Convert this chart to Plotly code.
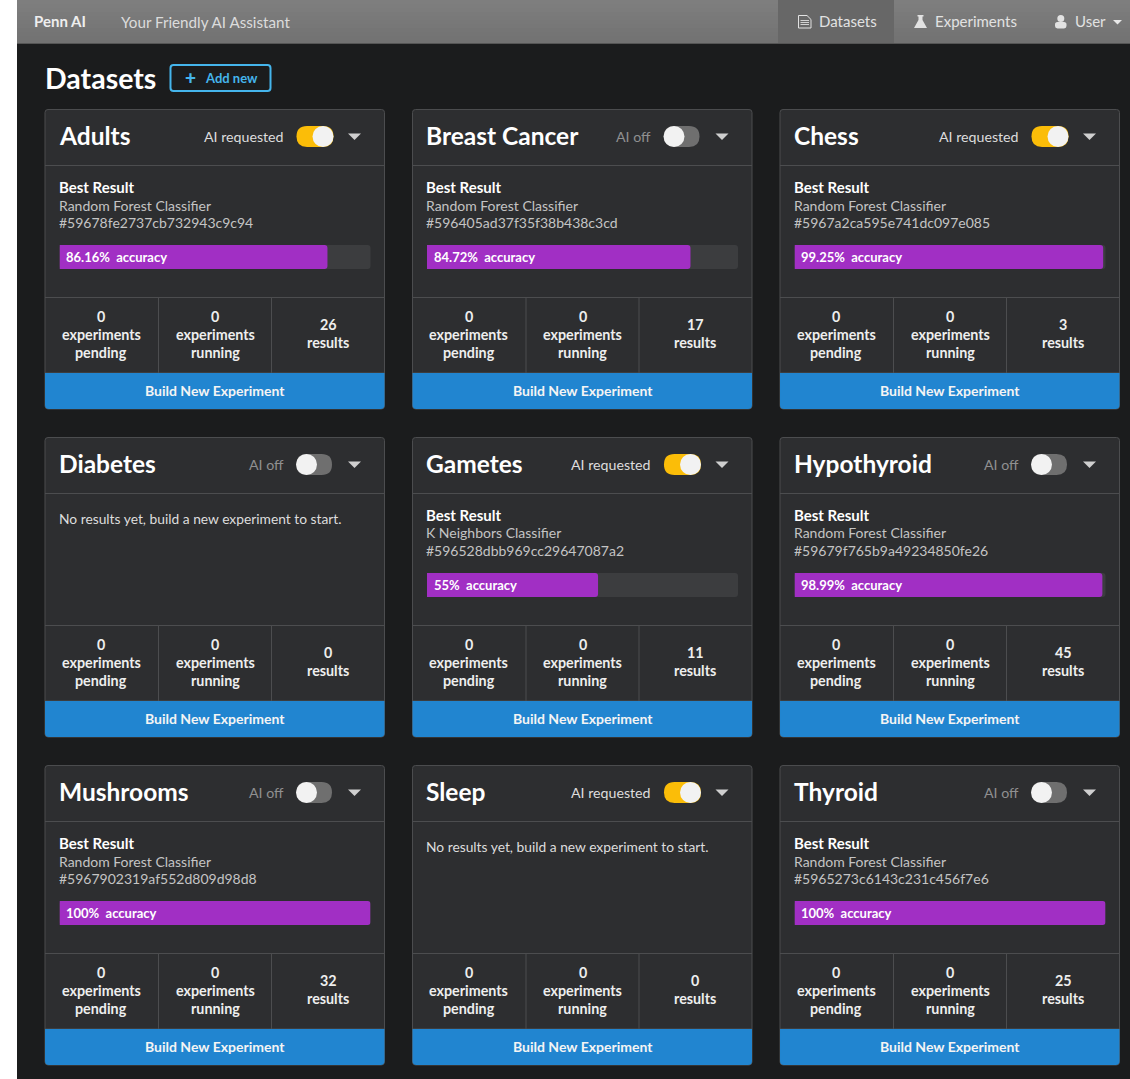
import plotly.graph_objects as go

W = 1130
H = 1079

DATASETS = ['Adults', 'Breast Cancer', 'Chess', 'Diabetes', 'Gametes', 'Hypothyroid', 'Mushrooms', 'Sleep', 'Thyroid']
AI_REQUESTED = [True, False, True, False, True, False, False, True, False]
ALGORITHMS = ['Random Forest Classifier', 'Random Forest Classifier', 'Random Forest Classifier', None,
              'K Neighbors Classifier', 'Random Forest Classifier', 'Random Forest Classifier', None,
              'Random Forest Classifier']
RESULT_IDS = ['#59678fe2737cb732943c9c94', '#596405ad37f35f38b438c3cd', '#5967a2ca595e741dc097e085', None,
              '#596528dbb969cc29647087a2', '#59679f765b9a49234850fe26', '#5967902319af552d809d98d8', None,
              '#5965273c6143c231c456f7e6']
ACCURACY = [86.16, 84.72, 99.25, None, 55, 98.99, 100, None, 100]
PENDING = [0, 0, 0, 0, 0, 0, 0, 0, 0]
RUNNING = [0, 0, 0, 0, 0, 0, 0, 0, 0]
RESULTS = [26, 17, 3, 0, 11, 45, 32, 0, 25]

CARD_X = [45, 412.5, 780]
CARD_Y = [110, 438, 766]
CARD_W = 339.5

FONT = 'Lato'
PAGE = '#1b1c1d'
CARD = '#2d2e30'
LINE = '#4c4d4f'
PURPLE = '#a12fc4'
BLUE = '#2185d0'
AMBER = '#fbbd08'
TRACK = '#3c3d3f'
NAV_SHADES = ['#7e7e7e', '#7d7d7d', '#7c7c7c', '#7a7a7a', '#797979', '#787878', '#777777', '#757575', '#747474', '#737373', '#727272']


def px(x):
    return x / W


def py(y):
    return 1 - y / H


shapes = []
notes = []


def rect(x0, y0, x1, y1, fill, line=None, width=1):
    shapes.append(dict(type='rect', xref='paper', yref='paper', layer='below',
                       x0=px(x0), x1=px(x1), y0=py(y0), y1=py(y1), fillcolor=fill,
                       line=dict(color=line or 'rgba(0,0,0,0)', width=width if line else 0)))


def poly(d, fill, line=None, width=1):
    out = []
    for part in d:
        if isinstance(part, str):
            out.append(part)
        else:
            out.append(f'{px(part[0]):.5f},{py(part[1]):.5f}')
    shapes.append(dict(type='path', xref='paper', yref='paper', layer='below', path=' '.join(out),
                       fillcolor=fill, line=dict(color=line or 'rgba(0,0,0,0)', width=width if line else 0)))


def rrect(x0, y0, x1, y1, r, fill, line=None, width=1, top=True, bottom=True):
    rt = r if top else 0
    rb = r if bottom else 0
    d = ['M', (x0 + rt, y0), 'L', (x1 - rt, y0), 'Q', (x1, y0), (x1, y0 + rt),
         'L', (x1, y1 - rb), 'Q', (x1, y1), (x1 - rb, y1),
         'L', (x0 + rb, y1), 'Q', (x0, y1), (x0, y1 - rb),
         'L', (x0, y0 + rt), 'Q', (x0, y0), (x0 + rt, y0), 'Z']
    poly(d, fill, line, width)


def circle(cx, cy, r, fill):
    shapes.append(dict(type='circle', xref='paper', yref='paper', layer='below',
                       x0=px(cx - r), x1=px(cx + r), y0=py(cy - r), y1=py(cy + r),
                       fillcolor=fill, line=dict(width=0)))


def hline(x0, x1, y, color=LINE):
    shapes.append(dict(type='line', xref='paper', yref='paper', layer='below',
                       x0=px(x0), x1=px(x1), y0=py(y), y1=py(y), line=dict(color=color, width=1)))


def vline(x, y0, y1, color=LINE):
    shapes.append(dict(type='line', xref='paper', yref='paper', layer='below',
                       x0=px(x), x1=px(x), y0=py(y0), y1=py(y1), line=dict(color=color, width=1)))


def label(x, y, text, size=14, color='#ffffff', weight=400, anchor='left'):
    # annotations keep a little padding round the text, take it back here
    if anchor == 'left':
        x -= 2
    elif anchor == 'right':
        x += 1.5
    notes.append(dict(xref='paper', yref='paper', x=px(x), y=py(y), text=text, showarrow=False,
                      xanchor=anchor, yanchor='middle', borderpad=0,
                      font=dict(family=FONT, size=size, color=color, weight=weight)))


# page background and nav bar, bands overlap so no seam shows between them
rect(17, 0, W, H, PAGE)
for i, shade in enumerate(NAV_SHADES):
    rect(17, i * 4, W, 44, shade)
rect(778, 0, 894, 43, '#676767')
hline(17, W, 43.5, '#555555')

label(35, 21, 'Penn AI', 15, '#eeeeee', 700)
label(122, 21.5, 'Your Friendly AI Assistant', 15.2, '#dcdcdc')
label(820, 21, 'Datasets', 15, '#e2e2e2')
label(936, 21, 'Experiments', 15, '#e2e2e2')
label(1076, 21, 'User', 15, '#e2e2e2')

# document icon
poly(['M', (798.5, 15.5), 'L', (807, 15.5), 'L', (811, 19.5), 'L', (811, 28), 'L', (798.5, 28), 'Z'], 'rgba(0,0,0,0)', '#e2e2e2', 1)
for yy in (20.5, 22.5, 24.5):
    hline(800.5, 809, yy, '#d0d0d0')
# flask icon
poly(['M', (917.5, 15), 'L', (923.5, 15), 'L', (923.5, 16.5), 'L', (922.5, 16.5), 'L', (922.5, 20), 'L', (927, 28), 'L', (914, 28),
      'L', (918.5, 20), 'L', (918.5, 16.5), 'L', (917.5, 16.5), 'Z'], '#e2e2e2')
# user icon
circle(1060.8, 18.5, 3.5, '#e2e2e2')
rrect(1055, 22, 1066.5, 28.5, 2.5, '#e2e2e2')
poly(['M', (1113, 20), 'L', (1122, 20), 'L', (1117.5, 24.5), 'Z'], '#e8e8e8')

# heading
label(46, 78, 'Datasets', 28.5, '#ffffff', 700)
rrect(170.5, 65, 270.5, 91, 3, 'rgba(0,0,0,0)', '#45b5ec', 2)
label(190, 77.5, '+', 19, '#45b5ec', 900, 'center')
label(206, 78, 'Add new', 13, '#45b5ec', 700)

fig = go.Figure()
layout_axes = {}

for i, name in enumerate(DATASETS):
    cx = CARD_X[i % 3]
    cy = CARD_Y[i // 3]
    right = cx + CARD_W
    tx0 = cx + 14.5
    tx1 = right - 14

    rrect(cx, cy - 0.5, right, cy + 299, 3, CARD, LINE, 1)
    hline(cx, right, cy + 55.5)
    hline(cx, right, cy + 187.5)
    hline(cx, right, cy + 263)
    vline(cx + 113.5, cy + 187.5, cy + 263)
    vline(cx + 226.5, cy + 187.5, cy + 263)
    rrect(cx, cy + 263, right, cy + 299, 4, BLUE, top=False)

    label(tx0, cy + 25, name, 24.5, '#ffffff', 700)
    on = AI_REQUESTED[i]
    label(cx + 238, cy + 26, 'AI requested' if on else 'AI off', 14.2, '#dddddd' if on else '#909090', 400, 'right')
    rrect(cx + 251.5, cy + 16, cx + (288.5 if on else 287), cy + 37, 10.5, AMBER if on else '#6f6f6f')
    circle(cx + (278 if on else 261.5), cy + 26.5, 10.5, '#f2f2f2')
    poly(['M', (cx + 303, cy + 23.5), 'L', (cx + 316, cy + 23.5), 'L', (cx + 309.5, cy + 30), 'Z'], '#cfcfcf')

    if ACCURACY[i] is None:
        label(tx0, cy + 80, 'No results yet, build a new experiment to start.', 13.8, '#dddddd')
    else:
        label(tx0, cy + 77, 'Best Result', 15, '#ffffff', 700)
        label(tx0, cy + 95, ALGORITHMS[i], 14, '#c4c4c4')
        label(tx0, cy + 112, RESULT_IDS[i], 14, '#c4c4c4')
        rrect(tx0, cy + 135, tx1, cy + 159, 3, TRACK)
        axis = i + 1
        suffix = '' if axis == 1 else str(axis)
        layout_axes[f'xaxis{suffix}'] = dict(domain=[px(tx0), px(tx1)], range=[0, 100], visible=False,
                                             fixedrange=True, anchor=f'y{suffix}')
        layout_axes[f'yaxis{suffix}'] = dict(domain=[py(cy + 159), py(cy + 135)], range=[-0.5, 0.5], visible=False,
                                             fixedrange=True, anchor=f'x{suffix}')
        fig.add_trace(go.Bar(x=[ACCURACY[i]], y=[0], width=[1], orientation='h', marker=dict(color=PURPLE, line=dict(width=0)),
                             xaxis=f'x{suffix}', yaxis=f'y{suffix}', showlegend=False, hoverinfo='skip'))
        label(tx0 + 7.5, cy + 147, f'{ACCURACY[i]:g}%\u00a0\u00a0accuracy', 13, '#ffffff', 700)

    for col, value, word in ((56, PENDING[i], 'pending'), (170, RUNNING[i], 'running')):
        label(cx + col, cy + 206, str(value), 14.3, '#eeeeee', 700, 'center')
        label(cx + col, cy + 224, 'experiments', 14.3, '#eeeeee', 700, 'center')
        label(cx + col, cy + 242.5, word, 14.3, '#eeeeee', 700, 'center')
    label(cx + 283, cy + 214.5, str(RESULTS[i]), 14.3, '#eeeeee', 700, 'center')
    label(cx + 283, cy + 232.5, 'results', 14.3, '#eeeeee', 700, 'center')
    label(cx + 170, cy + 280.5, 'Build New Experiment', 14, '#f4f4f4', 700, 'center')

fig.update_layout(
    width=W, height=H, autosize=False,
    margin=dict(l=0, r=0, t=0, b=0, pad=0),
    paper_bgcolor='#ffffff', plot_bgcolor='rgba(0,0,0,0)',
    barcornerradius=3, showlegend=False,
    shapes=shapes, annotations=notes,
    **layout_axes
)

fig.write_html('out.html', config=dict(displayModeBar=False),
               post_script="document.body.style.margin='0';")
